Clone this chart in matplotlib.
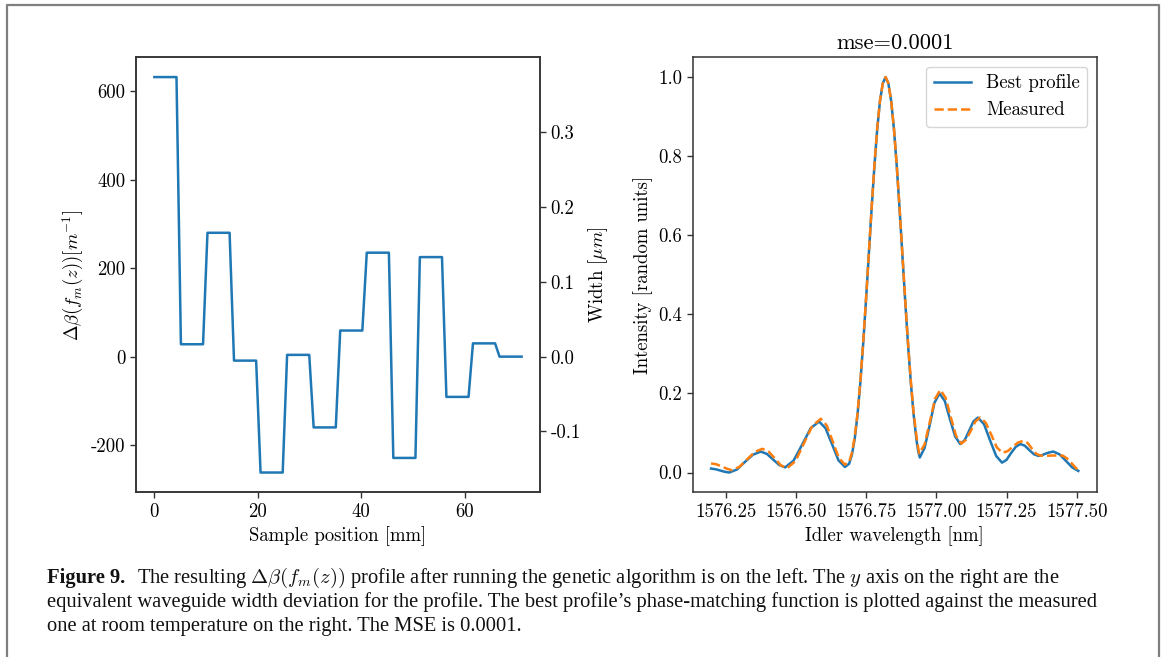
import numpy as np
import matplotlib
matplotlib.use("Agg")
import matplotlib.pyplot as plt
from matplotlib.ticker import FixedLocator, FormatStrFormatter
from matplotlib.lines import Line2D

plt.rcParams["font.family"] = "cmr10"
plt.rcParams["mathtext.fontset"] = "cm"
plt.rcParams["axes.unicode_minus"] = False
plt.rcParams["axes.formatter.use_mathtext"] = False

# left panel: delta-beta profile, one level per section, 6 samples per section
dbeta_levels = [632, 28, 280, -9, -262, 4, -160, 59, 235, -229, 225, -91, 30, 0]
samples_per_section = 6
sample_length = 71.0  # mm
width_per_dbeta = 5.92e-4  # um per m^-1

# right panel: phase-matching function
best_wl = [1576.197, 1576.215, 1576.23, 1576.245, 1576.262, 1576.29, 1576.318, 1576.346,
           1576.374, 1576.396, 1576.418, 1576.44, 1576.461, 1576.491, 1576.522, 1576.552,
           1576.582, 1576.605, 1576.628, 1576.651, 1576.674, 1576.689, 1576.699, 1576.709,
           1576.719, 1576.729, 1576.739, 1576.749, 1576.759, 1576.769, 1576.779, 1576.789,
           1576.799, 1576.809, 1576.819, 1576.829, 1576.839, 1576.849, 1576.859, 1576.869,
           1576.879, 1576.889, 1576.899, 1576.909, 1576.919, 1576.929, 1576.935, 1576.941,
           1576.958, 1576.976, 1576.993, 1577.011, 1577.030, 1577.048, 1577.067, 1577.085,
           1577.101, 1577.117, 1577.132, 1577.148, 1577.170, 1577.191, 1577.213, 1577.234,
           1577.250, 1577.266, 1577.283, 1577.299, 1577.315, 1577.331, 1577.348, 1577.364,
           1577.377, 1577.390, 1577.404, 1577.417, 1577.439, 1577.461, 1577.484, 1577.506]
best_int = [0.010, 0.008, 0.005, 0.002, 0.000, 0.008, 0.027, 0.045,
            0.053, 0.047, 0.033, 0.019, 0.013, 0.030, 0.071, 0.112,
            0.129, 0.112, 0.072, 0.031, 0.014, 0.022, 0.045, 0.085,
            0.146, 0.227, 0.324, 0.433, 0.549, 0.665, 0.773, 0.867,
            0.939, 0.984, 1.000, 0.984, 0.939, 0.867, 0.773, 0.665,
            0.549, 0.433, 0.324, 0.227, 0.146, 0.083, 0.055, 0.038,
            0.062, 0.119, 0.176, 0.200, 0.181, 0.136, 0.091, 0.072,
            0.082, 0.106, 0.129, 0.139, 0.122, 0.082, 0.042, 0.025,
            0.032, 0.049, 0.065, 0.072, 0.068, 0.057, 0.046, 0.042,
            0.044, 0.048, 0.051, 0.053, 0.046, 0.030, 0.013, 0.004]

meas_wl = [1576.197, 1576.215, 1576.233, 1576.252, 1576.27, 1576.2975, 1576.325, 1576.3525,
           1576.38, 1576.402, 1576.424, 1576.446, 1576.468, 1576.498, 1576.528, 1576.558,
           1576.588, 1576.6095, 1576.631, 1576.6525, 1576.674, 1576.689, 1576.699, 1576.709,
           1576.719, 1576.729, 1576.739, 1576.749, 1576.759, 1576.769, 1576.779, 1576.789,
           1576.799, 1576.809, 1576.819, 1576.829, 1576.839, 1576.849, 1576.859, 1576.869,
           1576.879, 1576.889, 1576.899, 1576.909, 1576.919, 1576.929, 1576.935, 1576.939,
           1576.958, 1576.977, 1576.995, 1577.014, 1577.033, 1577.051, 1577.070, 1577.089,
           1577.106, 1577.123, 1577.139, 1577.156, 1577.176, 1577.196, 1577.215, 1577.235,
           1577.254, 1577.272, 1577.291, 1577.31, 1577.325, 1577.34, 1577.355, 1577.37,
           1577.39, 1577.41, 1577.43, 1577.45, 1577.465, 1577.48, 1577.495, 1577.506]
meas_int = [0.023, 0.021, 0.016, 0.010, 0.006, 0.014, 0.033, 0.052,
            0.060, 0.053, 0.036, 0.018, 0.011, 0.029, 0.074, 0.118,
            0.136, 0.119, 0.078, 0.037, 0.020, 0.027, 0.050, 0.090,
            0.150, 0.230, 0.327, 0.436, 0.551, 0.667, 0.775, 0.869,
            0.940, 0.984, 1.000, 0.984, 0.940, 0.869, 0.775, 0.667,
            0.552, 0.436, 0.328, 0.232, 0.150, 0.092, 0.063, 0.048,
            0.071, 0.129, 0.186, 0.209, 0.189, 0.141, 0.093, 0.073,
            0.083, 0.106, 0.129, 0.139, 0.126, 0.095, 0.064, 0.050,
            0.054, 0.065, 0.076, 0.080, 0.075, 0.061, 0.048, 0.043,
            0.042, 0.043, 0.043, 0.043, 0.036, 0.025, 0.013, 0.006]
wl_ticks = [1576.25, 1576.50, 1576.75, 1577.00, 1577.25, 1577.50]

blue = "#1f77b4"
orange = "#ff7f0e"
spine_c = "#333333"
fs = 13.5

fig = plt.figure(figsize=(11.65, 6.57), dpi=100)
W, H = 1165, 657

def box(x0, y0, x1, y1):
    return [x0 / W, 1 - y1 / H, (x1 - x0) / W, (y1 - y0) / H]

ax1 = fig.add_axes(box(136, 57.3, 540, 492.3))
ax3 = fig.add_axes(box(692.7, 57.3, 1096.7, 492.3))

# left panel
n = len(dbeta_levels) * samples_per_section
z = np.linspace(0, sample_length, n)
dbeta = np.repeat(dbeta_levels, samples_per_section)
ax1.plot(z, dbeta, color=blue, lw=1.8)
ax1.xaxis.set_major_locator(FixedLocator([0, 20, 40, 60]))
ax1.yaxis.set_major_locator(FixedLocator([-200, 0, 200, 400, 600]))
ax1.set_xlabel("Sample position [mm]", fontsize=fs)
ax1.set_ylabel(r"$\Delta\beta(f_m(z))[m^{-1}]$", fontsize=fs)

ax2 = ax1.twinx()
lo, hi = ax1.get_ylim()
ax2.set_ylim(lo * width_per_dbeta, hi * width_per_dbeta)
ax2.yaxis.set_major_locator(FixedLocator([-0.1, 0.0, 0.1, 0.2, 0.3]))
ax2.yaxis.set_major_formatter(FormatStrFormatter("%.1f"))
ax2.set_ylabel(r"Width [$\mu m$]", fontsize=fs)

# right panel
ax3.plot(best_wl, best_int, color=blue, lw=1.8, label="Best profile")
ax3.plot(meas_wl, meas_int, color=orange, lw=1.8, ls="--", label="Measured")
ax3.xaxis.set_major_locator(FixedLocator(wl_ticks))
ax3.xaxis.set_major_formatter(FormatStrFormatter("%.2f"))
ax3.yaxis.set_major_locator(FixedLocator([0.0, 0.2, 0.4, 0.6, 0.8, 1.0]))
ax3.yaxis.set_major_formatter(FormatStrFormatter("%.1f"))
ax3.set_xlabel("Idler wavelength [nm]", fontsize=fs)
ax3.set_ylabel("Intensity [random units]", fontsize=fs)
ax3.set_title("mse=0.0001", fontsize=fs * 1.2)
ax3.legend(loc="upper right", fontsize=fs, handlelength=2.0)

for a in (ax1, ax2, ax3):
    a.tick_params(labelsize=fs, color=spine_c, width=1.0, length=4)
    for s in a.spines.values():
        s.set_color(spine_c)
        s.set_linewidth(1.1)

# frame round the figure
fig.add_artist(Line2D([6.5 / W, 6.5 / W, 1158.7 / W, 1158.7 / W],
                      [0, 1 - 4.7 / H, 1 - 4.7 / H, 0],
                      color="#7f7f7f", lw=1.6, transform=fig.transFigure))

# caption
cap_font = dict(family="Liberation Serif", fontsize=14.8, color="#111111")
x0 = 47 / W
y_lines = [583, 607, 631]
fig.canvas.draw()
r = fig.canvas.get_renderer()
t = fig.text(x0, 1 - y_lines[0] / H, "Figure 9.", fontweight="bold", va="baseline", **cap_font)
bb = t.get_window_extent(renderer=r)
fig.text((bb.x1 + 12) / W, 1 - y_lines[0] / H,
         r"The resulting $\Delta\beta(f_m(z))$ profile after running the genetic algorithm is on the left. "
         r"The $y$ axis on the right are the", va="baseline", **cap_font)
fig.text(x0, 1 - y_lines[1] / H,
         "equivalent waveguide width deviation for the profile. The best profile\u2019s phase-matching "
         "function is plotted against the measured", va="baseline", **cap_font)
fig.text(x0, 1 - y_lines[2] / H,
         "one at room temperature on the right. The MSE is 0.0001.", va="baseline", **cap_font)

fig.savefig("out.png", dpi=100)
